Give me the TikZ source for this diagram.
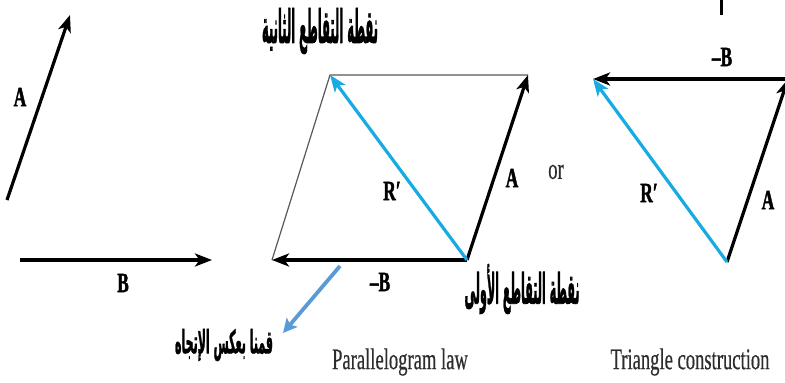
\documentclass[tikz,border=0pt]{standalone}
\usepackage{fontspec}
\usepackage{graphicx}
\usetikzlibrary{arrows.meta}
\setmainfont{Liberation Serif}
\newfontfamily\narrowserif[FakeStretch=0.62,FakeBold=0.4]{Liberation Serif}
\newfontfamily\labelfont[FakeStretch=0.62,FakeBold=1.5]{Liberation Serif Bold}
\newfontfamily\arabicfont[Script=Arabic,FakeBold=2]{DejaVu Sans Bold}
\TeXXeTstate=1
\definecolor{rblue}{RGB}{24,170,226}
\definecolor{pblue}{RGB}{91,155,213}
\definecolor{capgray}{RGB}{45,45,45}
\tikzset{
  vec/.style={line width=3.2pt, -{Stealth[length=17pt,width=13pt,inset=4.5pt]}},
  rvec/.style={vec, draw=rblue},
  thinline/.style={line width=1.2pt, draw=black!65},
  pointer/.style={line width=3.8pt, draw=pblue, -{Stealth[length=14pt,width=14pt,inset=3pt]}},
  lbl/.style={font=\labelfont\fontsize{28}{28}\selectfont, inner sep=0pt},
  captxt/.style={font=\narrowserif\fontsize{30}{30}\selectfont, text=capgray, inner sep=0pt},
  arab/.style={inner sep=0pt}
}
\begin{document}
\begin{tikzpicture}[x=1pt,y=-1pt]
\path[use as bounding box, fill=white] (0,0) rectangle (785,383);
\clip (0,0) rectangle (785,383);
% left vectors
\coordinate (a0) at (7,200);
\coordinate (a1) at (70,15);
\coordinate (b0) at (20,260);
\coordinate (b1) at (212,260);
\draw[vec] (a0) -- (a1);
\draw[vec] (b0) -- (b1);
\node[lbl] (lA) at (20,97) {A};
\node[lbl] (lB) at (123,283) {B};
% parallelogram
\coordinate (pBL) at (272,260);
\coordinate (pBR) at (467,260);
\coordinate (pTR) at (528,75);
\coordinate (pTL) at (330,75);
\draw[thinline] (pBL) -- (pTL) -- (pTR);
\draw[vec] (pBR) -- (pBL);
\draw[vec] (pBR) -- (pTR);
\draw[rvec] (pBR) -- (pTL);
\node[lbl] (pR) at (392,191) {R′};
\node[lbl] (pA) at (512,178) {A};
\node[lbl] (pmB) at (380,282) {–B};
\node[captxt] (or) at (556,172) {or};
% triangle
\coordinate (tB) at (727,262);
\coordinate (tT) at (788,79);
\coordinate (tL) at (593,79);
\draw[vec] (tB) -- (tT);
\draw[vec] (tT) -- (tL);
\draw[rvec] (tB) -- (tL);
\node[lbl] (tR) at (649,193) {R′};
\node[lbl] (tA) at (768,200) {A};
\node[lbl] (tmB) at (722,57) {–B};
\draw[line width=3pt] (721,0) -- (721,15);
% captions
\node[captxt] (c1) at (400,362) {Parallelogram law};
\node[captxt] (c2) at (690,362) {Triangle construction};
% arabic annotations
\node[arab] (t1) at (320,31) {\resizebox*{116pt}{46pt}{\arabicfont\beginR نقطة التقاطع الثانية\endR}};
\node[arab] (t2) at (522,289) {\resizebox*{115pt}{50pt}{\arabicfont\beginR نقطة التقاطع الأولى\endR}};
\node[arab] (t3) at (224,345) {\resizebox*{98pt}{32pt}{\arabicfont\beginR قمنا بعكس الإتجاه\endR}};
\coordinate (p0) at (340,266);
\coordinate (p1) at (283,333);
\draw[pointer] (p0) -- (p1);
\end{tikzpicture}
\end{document}
